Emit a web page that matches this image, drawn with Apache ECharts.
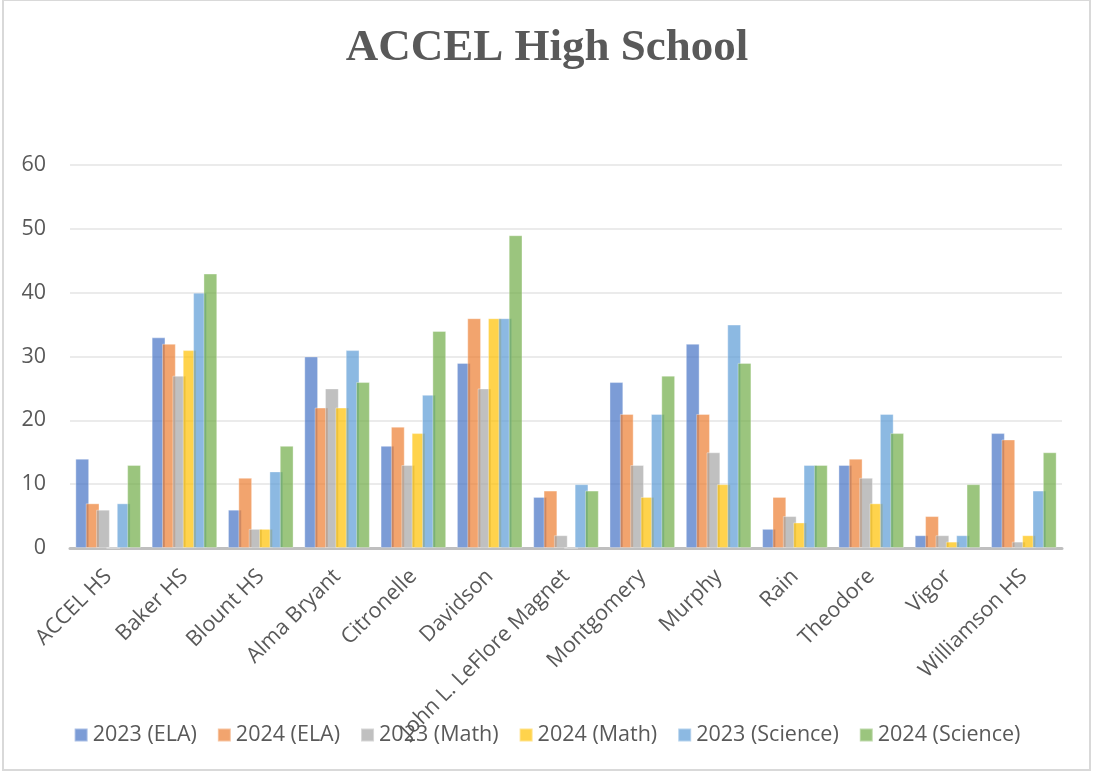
<!DOCTYPE html>
<html>
<head>
<meta charset="utf-8">
<script src="https://cdn.jsdelivr.net/npm/echarts@6/dist/echarts.min.js"></script>
<style>
html,body{margin:0;padding:0;background:#fff;}
#frame{position:absolute;left:2px;top:-1px;width:1089px;height:772px;border:2px solid #d9d9d9;box-sizing:border-box;}
#c{position:absolute;left:0;top:0;width:1094px;height:772px;}
</style>
</head>
<body>
<div id="frame"></div>
<div id="c"></div>
<script>
const categories = ["ACCEL HS","Baker HS","Blount HS","Alma Bryant","Citronelle","Davidson","John L. LeFlore Magnet","Montgomery","Murphy","Rain","Theodore","Vigor","Williamson HS"];
const seriesNames = ["2023 (ELA)","2024 (ELA)","2023 (Math)","2024 (Math)","2023 (Science)","2024 (Science)"];
const ela2023 = [14,33,6,30,16,29,8,26,32,3,13,2,18];
const ela2024 = [7,32,11,22,19,36,9,21,21,8,14,5,17];
const math2023 = [6,27,3,25,13,25,2,13,15,5,11,2,1];
const math2024 = [0,31,3,22,18,36,0,8,10,4,7,1,2];
const sci2023 = [7,40,12,31,24,36,10,21,35,13,21,2,9];
const sci2024 = [13,43,16,26,34,49,9,27,29,13,18,10,15];
const yTicks = {min:0, max:60, interval:10};

const colors = ["#4472C4","#ED7D31","#A5A5A5","#FFC000","#5B9BD5","#70AD47"];
const data = [ela2023, ela2024, math2023, math2024, sci2023, sci2024];

const chart = echarts.init(document.getElementById('c'));
chart.setOption({
  animation:false,
  color: colors,
  title:{
    text:"ACCEL High School", left:'center', top:21,
    textStyle:{fontFamily:"Liberation Serif", fontWeight:'bold', fontSize:45, color:'#595959'}
  },
  legend:{
    bottom:21, left:'center', itemWidth:13, itemHeight:13, itemGap:20,
    icon:'rect',
    textStyle:{fontFamily:"Open Sans", fontSize:21.5, color:'#595959'},
    data: seriesNames
  },
  grid:{left:70, right:32, top:165, bottom:224, containLabel:false},
  xAxis:{
    type:'category', data:categories,
    axisLine:{lineStyle:{color:'#BFBFBF', width:3}},
    axisTick:{show:false},
    axisLabel:{rotate:45, interval:0, fontFamily:"Open Sans", fontSize:21.5, color:'#595959', margin:25}
  },
  yAxis:{
    type:'value', min:yTicks.min, max:yTicks.max, interval:yTicks.interval,
    axisLine:{show:false}, axisTick:{show:false},
    splitLine:{lineStyle:{color:'#EBEBEB', width:2}},
    axisLabel:{fontFamily:"Open Sans", fontSize:21.5, color:'#595959', margin:24}
  },
  series: seriesNames.map((n,i)=>({
    name:n, type:'bar', data:data[i],
    barGap:'-25%', barCategoryGap:'14%',
    itemStyle:{color:colors[i], opacity:0.7, borderColor:'rgba(255,255,255,0.5)', borderWidth:1}
  }))
});
</script>
</body>
</html>
